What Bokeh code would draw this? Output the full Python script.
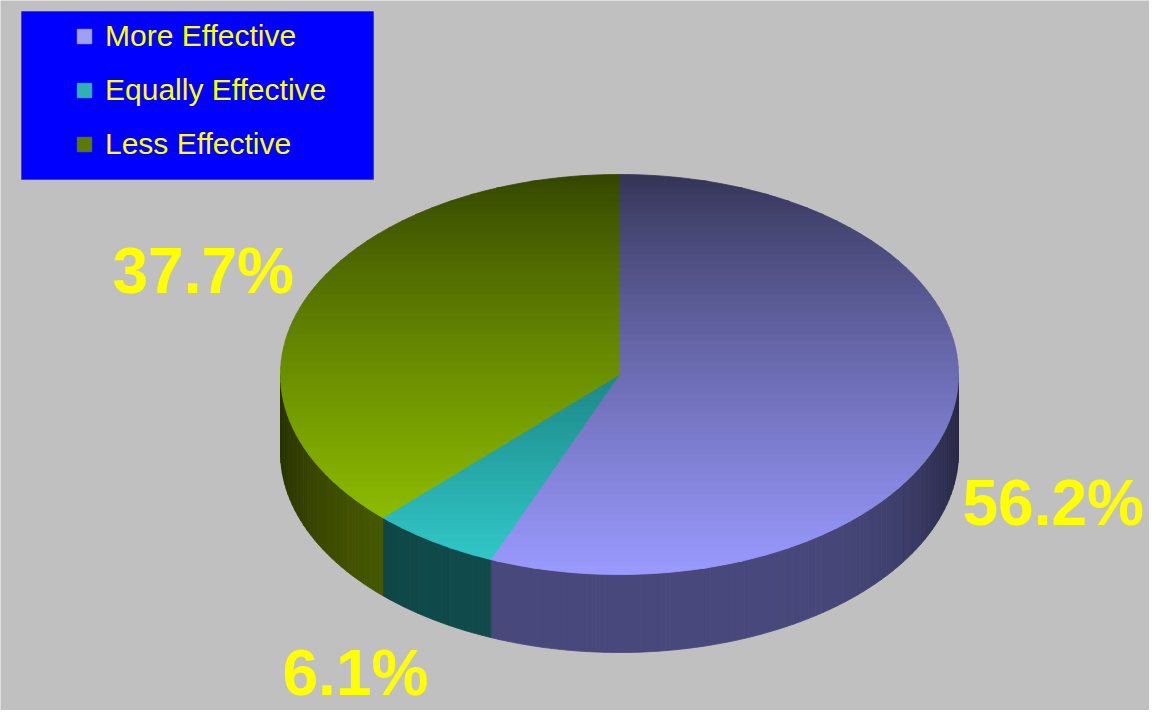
import math
from bokeh.plotting import figure
from bokeh.models import Range1d, ColumnDataSource, Legend, LegendItem, BoxAnnotation
from bokeh.core.properties import value
from bokeh.embed import file_html
from bokeh.resources import INLINE

# ---------------- data ----------------
categories = ["More Effective", "Equally Effective", "Less Effective"]
percents = [56.2, 6.1, 37.7]

# ---------------- styles / layout ----------------
top_dark = [(0x33, 0x33, 0x55), (0x00, 0x30, 0x30), (0x33, 0x44, 0x00)]
top_light = [(0x9a, 0x9a, 0xff), (0x33, 0xcc, 0xcc), (0x99, 0xcc, 0x00)]
side_base = [(0x48, 0x48, 0x7c), (0x10, 0x4a, 0x4a), (0x4a, 0x5c, 0x00)]
legend_colors = ["#a0a0f0", "#30b0b0", "#5a7a00"]
label_x = [962, 282, 112]
label_y = [208, 38, 440]

W, H = 1149, 710
CX, CY = 619, 336      # pie centre (data units = pixels)
RX, RY = 339, 200
DEPTH = 78
NBANDS = 60


def hexc(c):
    return "#%02x%02x%02x" % tuple(int(round(max(0, min(255, v)))) for v in c)


def lerp(a, b, t):
    return tuple(a[i] + (b[i] - a[i]) * t for i in range(3))


def pt(theta):
    return (CX + RX * math.cos(theta), CY + RY * math.sin(theta))


def clip_half(pts, yc, above):
    out = []
    n = len(pts)
    for i in range(n):
        cur = pts[i]
        prev = pts[i - 1]
        cin = cur[1] >= yc if above else cur[1] <= yc
        pin = prev[1] >= yc if above else prev[1] <= yc
        if cin != pin:
            t = (yc - prev[1]) / (cur[1] - prev[1])
            out.append((prev[0] + t * (cur[0] - prev[0]), yc))
        if cin:
            out.append(cur)
    return out


# slice angles: start at 12 o'clock, clockwise
total = sum(percents)
angles = []
a = 90.0
for v in percents:
    a1 = a - 360.0 * v / total
    angles.append((a, a1))
    a = a1

xs, ys, cols = [], [], []

# ---- sides (visible lower half) ----
for i, (a0, a1) in enumerate(angles):
    hi = min(a0, 0.0)
    lo = max(a1, -180.0)
    if hi <= lo:
        continue
    nseg = max(2, int((hi - lo) / 1.5))
    for k in range(nseg):
        t0 = math.radians(hi - (hi - lo) * k / nseg)
        t1 = math.radians(hi - (hi - lo) * (k + 1) / nseg)
        p0, p1 = pt(t0), pt(t1)
        xs.append([p0[0], p1[0], p1[0], p0[0]])
        ys.append([p0[1], p1[1], p1[1] - DEPTH, p0[1] - DEPTH])
        tm = (t0 + t1) / 2
        f = 1 - 0.45 * abs(math.cos(tm)) ** 6
        cols.append(hexc(tuple(c * f for c in side_base[i])))

# ---- top faces with vertical gradient ----
ytop = CY + RY
bh = 2 * RY / NBANDS
for i, (a0, a1) in enumerate(angles):
    n = max(8, int(abs(a0 - a1) / 1.0))
    poly = [(CX, CY)] + [pt(math.radians(a0 + (a1 - a0) * k / n)) for k in range(n + 1)]
    for b in range(NBANDS):
        yh = ytop - b * bh + 0.3
        yl = ytop - (b + 1) * bh - 0.3
        piece = clip_half(clip_half(poly, yl, True), yh, False)
        if len(piece) < 3:
            continue
        t = ((b + 0.5) / NBANDS) ** 0.85
        xs.append([q[0] for q in piece])
        ys.append([q[1] for q in piece])
        cols.append(hexc(lerp(top_dark[i], top_light[i], t)))

p = figure(width=W, height=H, output_backend="svg", toolbar_location=None,
           x_range=Range1d(0, W), y_range=Range1d(0, H),
           min_border=0, background_fill_color="#c0c0c0",
           border_fill_color="#c0c0c0", outline_line_color=None)
p.xaxis.visible = False
p.yaxis.visible = False
p.grid.visible = False

src = ColumnDataSource(dict(xs=xs, ys=ys, c=cols))
p.patches("xs", "ys", source=src, fill_color="c", line_color="c", line_width=0.8)

labels = ["%.1f%%" % v for v in percents]
p.text(x=label_x, y=label_y, text=labels, text_font=value("Liberation Sans"),
       text_font_style="bold", text_font_size="64px", text_color="#ffff00",
       text_align="left", text_baseline="middle")

# legend box
box = BoxAnnotation(left=21, right=373, top=699, bottom=531, fill_color="#0000ff",
                    fill_alpha=1.0, line_color="#00005a", line_width=1, level="underlay")
p.add_layout(box)

items = []
for name, col in zip(categories, legend_colors):
    r = p.scatter(x=[float("nan")], y=[float("nan")], marker="square",
                  fill_color=col, line_color=col)
    items.append(LegendItem(label=name, renderers=[r]))

legend = Legend(items=items, location=(66, 548), padding=0, margin=0, spacing=18,
                glyph_width=36, glyph_height=36, label_height=36, label_standoff=3,
                label_text_font="Liberation Sans", label_text_font_size="30px",
                label_text_color="#ffff00", background_fill_alpha=0,
                border_line_alpha=0)
p.add_layout(legend)

open("out.html", "w").write(file_html(p, INLINE))
